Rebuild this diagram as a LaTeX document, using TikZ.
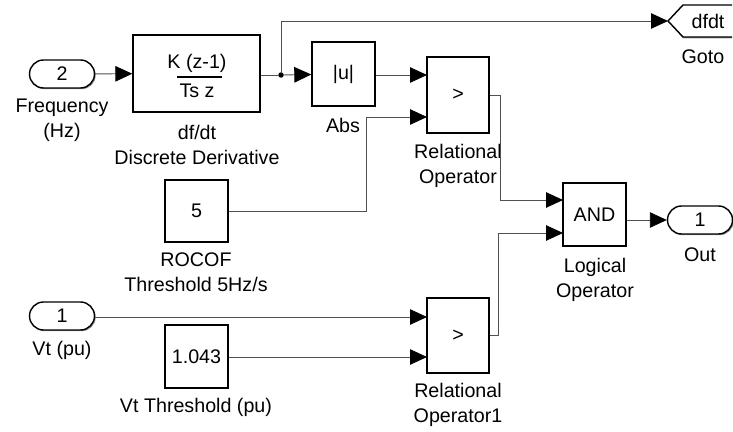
\documentclass[tikz,border=0pt]{standalone}
\usepackage{fontspec}
\setmainfont{Liberation Sans}
\usetikzlibrary{arrows.meta,positioning,shapes.misc,shadows,calc}
\definecolor{slwire}{RGB}{80,80,80}
\definecolor{slshadow}{RGB}{150,150,150}
\tikzset{
  blk/.style={draw,line width=0.8pt,fill=white,inner sep=0pt,
    drop shadow={shadow xshift=0.7pt,shadow yshift=-0.7pt,fill=slshadow,opacity=1}},
  port/.style={blk,rounded rectangle,minimum width=1.3cm,minimum height=0.56cm},
  sig/.style={slwire,line width=0.5pt,-{Triangle[length=3.4mm,width=3.1mm,black]}},
  wire/.style={slwire,line width=0.5pt},
  lbl/.style={align=center}
}

\begin{document}
\begin{tikzpicture}[x=0.02cm,y=-0.02cm,font=\fontsize{11.2}{14.2}\selectfont]
  \useasboundingbox (0,0) rectangle (733,432);
  % ports
  \node[port] (in2) at (62,74) {2};
  \node[port] (in1) at (62,316) {1};
  \node[port] (out) at (700,220) {1};
  % blocks
  \node[blk,minimum width=2.54cm,minimum height=1.54cm] (deriv) at (196.5,73.5) {};
  \node (num) at (197,63) {K (z-1)};
  \node (den) at (197,91) {Ts z};
  \draw[line width=0.6pt] (177,77) -- (222,77);
  \node[blk,minimum width=1.26cm,minimum height=1.28cm] (abs) at (343.5,74) {|u|};
  \node[blk,minimum width=1.24cm,minimum height=1.52cm] (rel) at (458,95) {>};
  \node[blk,minimum width=1.24cm,minimum height=1.5cm] (rel1) at (458,335.5) {>};
  \node[blk,minimum width=1.26cm,minimum height=1.24cm] (c5) at (196.5,211) {5};
  \node[blk,minimum width=1.26cm,minimum height=1.26cm] (cvt) at (196.5,356.5) {1.043};
  \node[blk,minimum width=1.26cm,minimum height=1.26cm] (and) at (594.5,214.5) {AND};
  % goto tag
  \fill[slshadow] (668.5,22) -- (683.5,38.5) -- (732,38.5) -- (732,37) -- (683,37) -- cycle;
  \draw[line width=0.8pt,fill=white] (732,5) -- (683,5) -- (668,21) -- (683,37) -- (732,37);
  \node (goto) at (708,21) {dfdt};
  \coordinate (gotoin) at (668,21);
  % labels
  \node[lbl] (lin2) at (62,120) {Frequency\\(Hz)};
  \node[lbl] (lderiv) at (197,145) {df/dt\\Discrete Derivative};
  \node[lbl] (labs) at (343,125) {Abs};
  \node[lbl] (lrel) at (458,166) {Relational\\Operator};
  \node[lbl] (lc5) at (196,272) {ROCOF\\Threshold 5Hz/s};
  \node[lbl] (land) at (595,280) {Logical\\Operator};
  \node[lbl] (lout) at (700,255) {Out};
  \node[lbl] (lgoto) at (703,57) {Goto};
  \node[lbl] (lin1) at (62,350) {Vt (pu)};
  \node[lbl] (lcvt) at (196,407) {Vt Threshold (pu)};
  \node[lbl] (lrel1) at (458,405) {Relational\\Operator1};
  % input points
  \coordinate (rel-a) at (427,75);
  \coordinate (rel-b) at (427,117);
  \coordinate (rel1-a) at (427,317);
  \coordinate (rel1-b) at (427,357);
  \coordinate (and-a) at (563,200);
  \coordinate (and-b) at (563,233);
  % wires
  \node[circle,fill=black,inner sep=0pt,minimum size=0.11cm] (jn) at (281,75) {};
  \draw[sig] (in2) -- (deriv);
  \draw[wire] (deriv.east |- jn) -- (jn);
  \draw[sig] (jn) -- (abs);
  \draw[sig] (jn) |- (gotoin);
  \draw[sig] (abs.east |- rel-a) -- (rel-a);
  \draw[sig] (c5) -- ++(170,0) |- (rel-b);
  \draw[sig] (rel) -- ++(42,0) |- (and-a);
  \draw[sig] (in1.east |- rel1-a) -- (rel1-a);
  \draw[sig] (cvt.east |- rel1-b) -- (rel1-b);
  \draw[sig] (rel1) -- ++(40,0) |- (and-b);
  \draw[sig] (and.east |- out) -- (out);
\end{tikzpicture}
\end{document}
